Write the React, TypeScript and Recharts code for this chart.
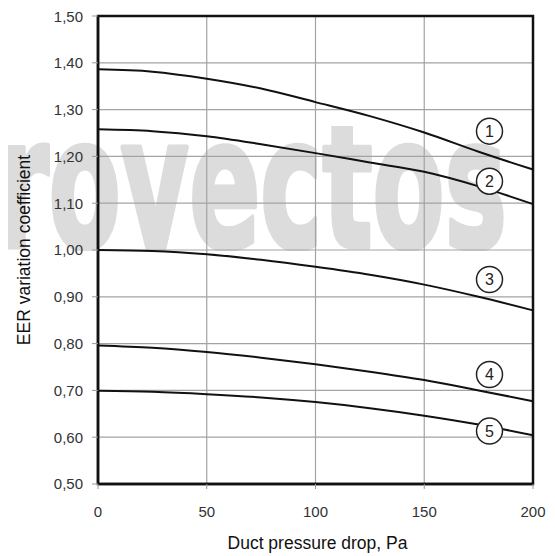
import React from 'react';
import {
  LineChart,
  Line,
  XAxis,
  YAxis,
  CartesianGrid,
  ReferenceDot,
  ReferenceArea,
  Label,
} from 'recharts';

const pressureDrop = [0, 25, 50, 75, 100, 125, 150, 175, 200];
const curve1 = [1.386, 1.381, 1.366, 1.345, 1.316, 1.286, 1.251, 1.21, 1.172];
const curve2 = [1.258, 1.254, 1.243, 1.226, 1.207, 1.187, 1.167, 1.136, 1.098];
const curve3 = [1.0, 0.998, 0.991, 0.979, 0.964, 0.947, 0.926, 0.9, 0.871];
const curve4 = [0.796, 0.791, 0.782, 0.77, 0.756, 0.74, 0.722, 0.7, 0.677];
const curve5 = [0.699, 0.697, 0.692, 0.685, 0.675, 0.662, 0.646, 0.627, 0.604];

const xTicks = [0, 50, 100, 150, 200];
const yTicks = [0.5, 0.6, 0.7, 0.8, 0.9, 1.0, 1.1, 1.2, 1.3, 1.4, 1.5];

const curveTags = ['1', '2', '3', '4', '5'];
const tagX = [180, 180, 180, 180, 180];
const tagY = [1.254, 1.147, 0.937, 0.734, 0.613];

const xLabel = 'Duct pressure drop, Pa';
const yLabel = 'EER variation coefficient';
const watermark = 'proyectos';

const series = [curve1, curve2, curve3, curve4, curve5];
const rows = pressureDrop.map((x, i) => {
  const r: Record<string, number> = { x };
  series.forEach((s, k) => {
    r['s' + (k + 1)] = s[i];
  });
  return r;
});

const FONT = '"Liberation Sans", Arial, Helvetica, sans-serif';

export default function App() {
  return (
    <div style={{ position: 'relative', width: 547, height: 548 }}>
      <svg
        width={555}
        height={556}
        style={{ position: 'absolute', left: -8, top: -8 }}
      >
        <defs>
          <clipPath id="wmclip">
            <rect x={0} y={126} width={555} height={125} />
          </clipPath>
        </defs>
        <text
          x={-78}
          y={247}
          fontSize={182}
          fontWeight="bold"
          fontFamily='"DejaVu Sans Condensed", "DejaVu Sans", sans-serif'
          textLength={585}
          lengthAdjust="spacingAndGlyphs"
          fill="#dcdcdc"
          stroke="#dcdcdc"
          strokeWidth={5}
          strokeLinejoin="round"
          clipPath="url(#wmclip)"
        >
          {watermark}
        </text>
      </svg>
      <LineChart
        width={547}
        height={548}
        data={rows}
        margin={{ top: 8, right: 22, left: 30, bottom: 42 }}
        style={{ position: 'relative', fontFamily: FONT }}
      >
        <CartesianGrid stroke="#a3a3a3" strokeWidth={1.2} />
        <XAxis
          dataKey="x"
          type="number"
          domain={[0, 200]}
          ticks={xTicks}
          height={30}
          axisLine={{ stroke: '#111', strokeWidth: 2.5 }}
          tickLine={{ stroke: '#999' }}
          tickSize={5}
          tickMargin={17}
          tick={{ fill: '#333', fontSize: 15, fontFamily: FONT }}
        >
          <Label
            value={xLabel}
            position="center"
            dx={2}
            dy={44}
            fill="#111"
            fontSize={17.5}
            fontFamily={FONT}
          />
        </XAxis>
        <YAxis
          type="number"
          domain={[0.5, 1.5]}
          ticks={yTicks}
          width={60}
          axisLine={{ stroke: '#111', strokeWidth: 2.5 }}
          tickLine={{ stroke: '#999' }}
          tickSize={6}
          tickMargin={9}
          tickFormatter={(v: number) => v.toFixed(2).replace('.', ',')}
          tick={{ fill: '#333', fontSize: 15, fontFamily: FONT }}
        >
          <Label
            value={yLabel}
            position="center"
            angle={-90}
            dx={-44}
            fill="#111"
            fontSize={17.5}
            fontFamily={FONT}
          />
        </YAxis>
        <ReferenceArea
          x1={0}
          x2={200}
          y1={0.5}
          y2={1.5}
          fill="none"
          fillOpacity={0}
          stroke="#111"
          strokeWidth={2.5}
        />
        {series.map((_, k) => (
          <Line
            key={k}
            type="monotone"
            dataKey={'s' + (k + 1)}
            stroke="#111"
            strokeWidth={2}
            dot={false}
            isAnimationActive={false}
          />
        ))}
        {curveTags.map((t, k) => (
          <ReferenceDot
            key={t}
            x={tagX[k]}
            y={tagY[k]}
            r={13}
            fill="#fff"
            stroke="#222"
            strokeWidth={1.5}
            label={{
              value: t,
              position: 'center',
              fill: '#222',
              fontSize: 16,
              fontFamily: FONT,
            }}
          />
        ))}
      </LineChart>
    </div>
  );
}
